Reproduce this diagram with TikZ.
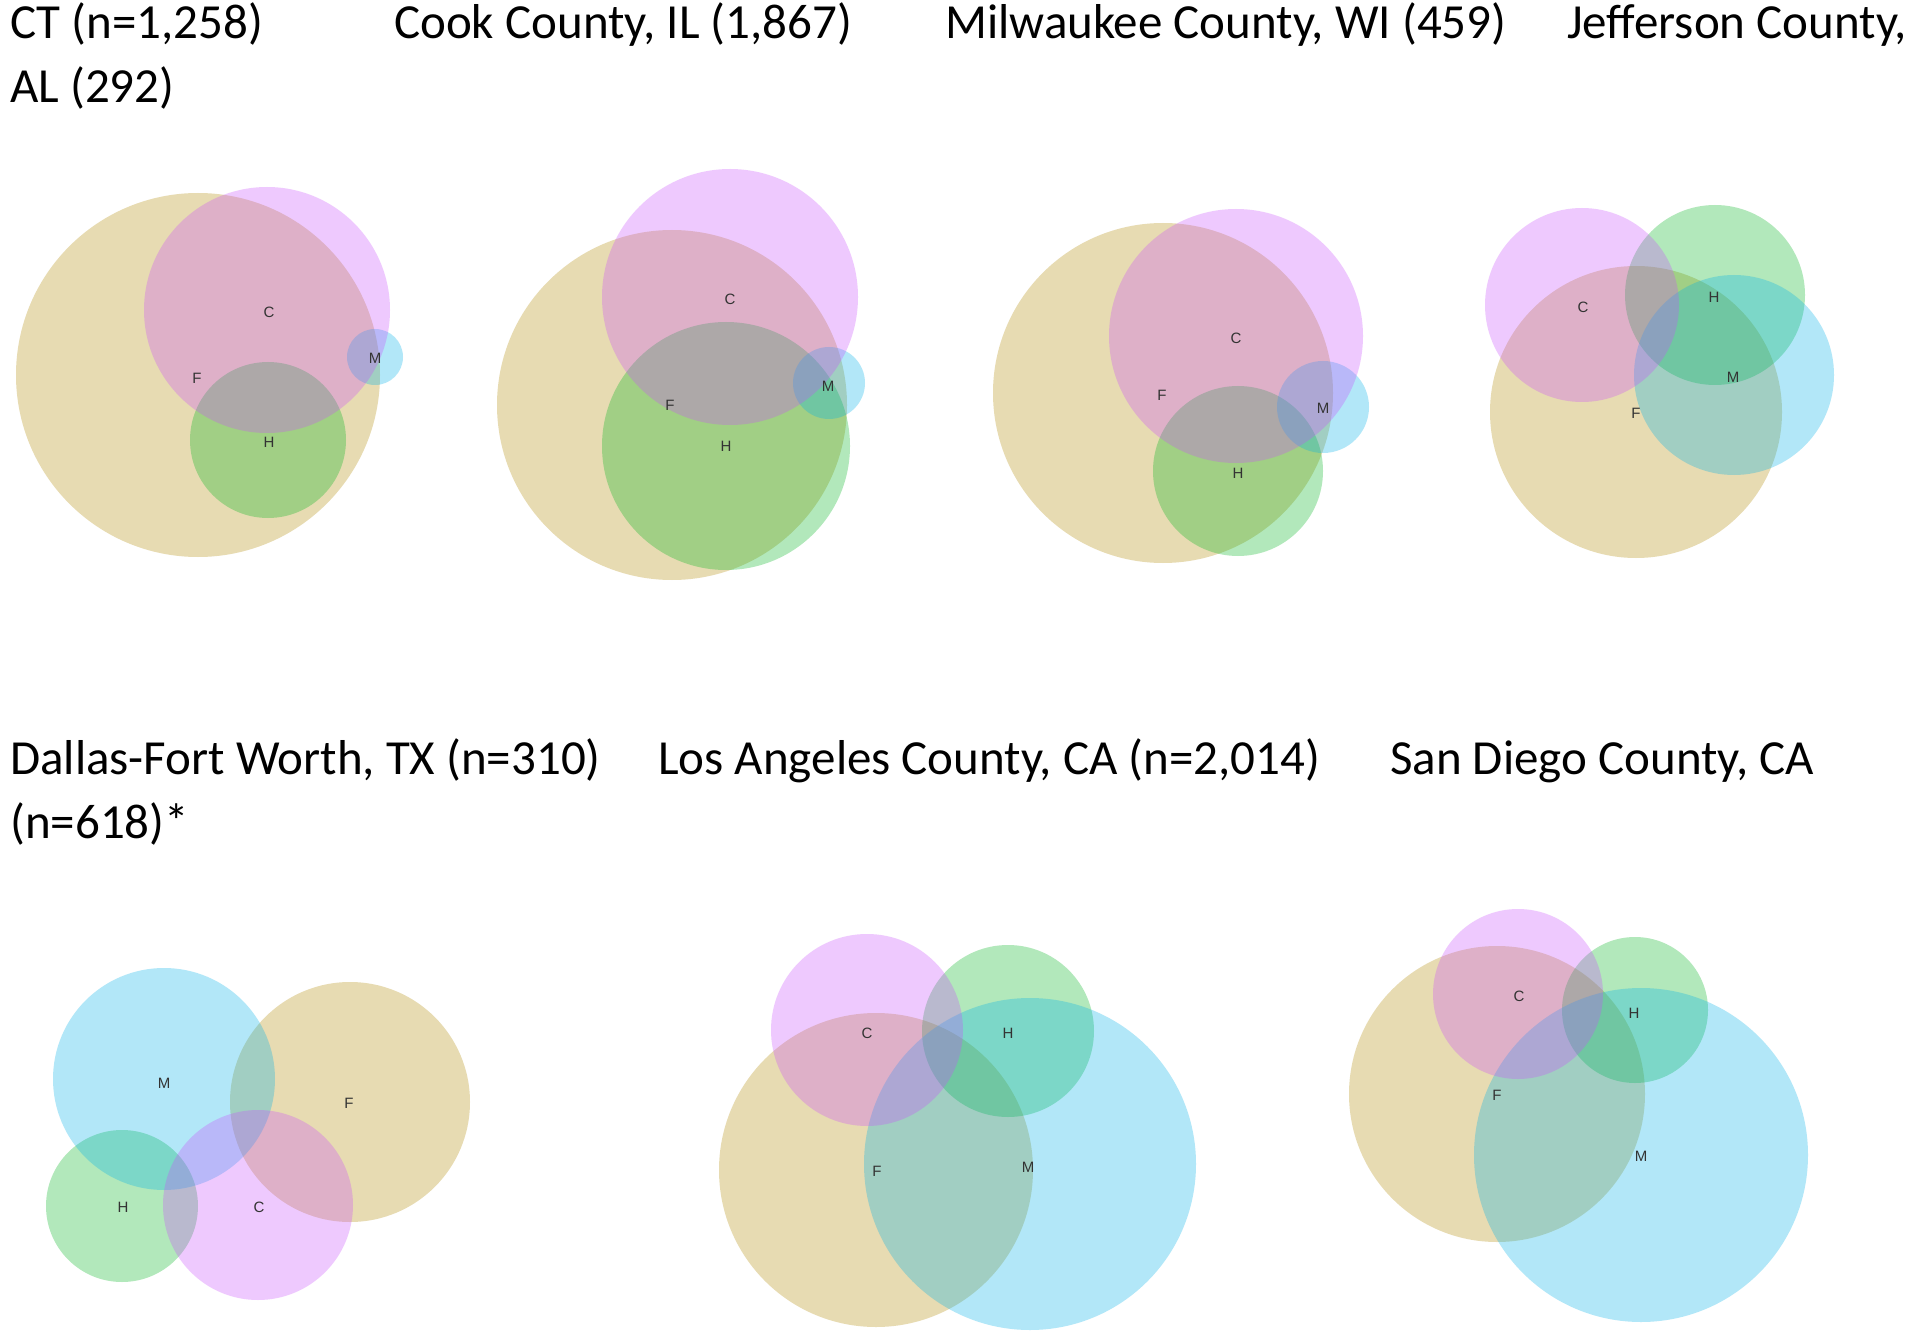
\documentclass[tikz,border=0pt]{standalone}
\usepackage{fontspec}
\setmainfont{Carlito}
\newfontfamily\lblfont{Liberation Sans}
\definecolor{vennF}{RGB}{178,138,0}
\definecolor{vennC}{RGB}{202,78,252}
\definecolor{vennH}{RGB}{0,182,32}
\definecolor{vennM}{RGB}{2,178,232}
\tikzset{
  ttl/.style={anchor=base west, inner sep=0pt, font=\fontsize{49}{59}\selectfont},
  lbl/.style={inner sep=0pt, text=black!80, font=\lblfont\fontsize{15}{17}\selectfont},
  setF/.style={fill=vennF, fill opacity=0.3},
  setC/.style={fill=vennC, fill opacity=0.3},
  setH/.style={fill=vennH, fill opacity=0.3},
  setM/.style={fill=vennM, fill opacity=0.3}
}

\begin{document}
\begin{tikzpicture}[x=1pt,y=-1pt]
\useasboundingbox (0,0) rectangle (1920,1337);
\fill[white] (0,0) rectangle (1920,1337);

\node[ttl] (tCT) at (10,39) {CT (n=1,258)};
\node[ttl] (tCook) at (394,39) {Cook County, IL (1,867)};
\node[ttl] (tMil) at (945,39) {Milwaukee County, WI (459)};
\node[ttl] (tJef) at (1567,39) {Jefferson County,};
\node[ttl] (tJefb) at (10,103) {AL (292)};
\node[ttl] (tDal) at (10,774) {Dallas-Fort Worth, TX (n=310)};
\node[ttl] (tLA) at (658,774) {Los Angeles County, CA (n=2,014)};
\node[ttl] (tSD) at (1390,774) {San Diego County, CA};
\node[ttl] (tSDb) at (10,838) {(n=618)*};

\fill[setF] (198,375) circle (182pt);
\fill[setH] (268,440) circle (78pt);
\fill[setM] (375,357) circle (28pt);
\fill[setC] (267,310) circle (123pt);
\node[lbl] (ctC) at (269,312) {C};
\node[lbl] (ctF) at (197,378) {F};
\node[lbl] (ctH) at (269,442) {H};
\node[lbl] (ctM) at (375,358) {M};

\fill[setF] (672,405) circle (175pt);
\fill[setH] (726,446) circle (124pt);
\fill[setM] (829,383) circle (36pt);
\fill[setC] (730,297) circle (128pt);
\node[lbl] (ckC) at (730,299) {C};
\node[lbl] (ckF) at (670,405) {F};
\node[lbl] (ckH) at (726,446) {H};
\node[lbl] (ckM) at (828,386) {M};

\fill[setF] (1163,393) circle (170pt);
\fill[setH] (1238,471) circle (85pt);
\fill[setM] (1323,407) circle (46pt);
\fill[setC] (1236,336) circle (127pt);
\node[lbl] (mwC) at (1236,338) {C};
\node[lbl] (mwF) at (1162,395) {F};
\node[lbl] (mwH) at (1238,473) {H};
\node[lbl] (mwM) at (1323,408) {M};

\fill[setF] (1636,412) circle (146pt);
\fill[setH] (1715,295) circle (90pt);
\fill[setM] (1734,375) circle (100pt);
\fill[setC] (1582,305) circle (97pt);
\node[lbl] (jfC) at (1583,307) {C};
\node[lbl] (jfF) at (1636,413) {F};
\node[lbl] (jfH) at (1714,297) {H};
\node[lbl] (jfM) at (1733,377) {M};

\fill[setF] (350,1102) circle (120pt);
\fill[setH] (122,1206) circle (76pt);
\fill[setM] (164,1079) circle (111pt);
\fill[setC] (258,1205) circle (95pt);
\node[lbl] (dfC) at (259,1207) {C};
\node[lbl] (dfF) at (349,1103) {F};
\node[lbl] (dfH) at (123,1207) {H};
\node[lbl] (dfM) at (164,1083) {M};

\fill[setF] (876,1170) circle (157pt);
\fill[setH] (1008,1031) circle (86pt);
\fill[setM] (1030,1164) circle (166pt);
\fill[setC] (867,1030) circle (96pt);
\node[lbl] (laC) at (867,1033) {C};
\node[lbl] (laF) at (877,1171) {F};
\node[lbl] (laH) at (1008,1033) {H};
\node[lbl] (laM) at (1028,1167) {M};

\fill[setF] (1497,1094) circle (148pt);
\fill[setH] (1635,1010) circle (73pt);
\fill[setM] (1641,1155) circle (167pt);
\fill[setC] (1518,994) circle (85pt);
\node[lbl] (sdC) at (1519,996) {C};
\node[lbl] (sdF) at (1497,1095) {F};
\node[lbl] (sdH) at (1634,1013) {H};
\node[lbl] (sdM) at (1641,1156) {M};
\end{tikzpicture}
\end{document}
